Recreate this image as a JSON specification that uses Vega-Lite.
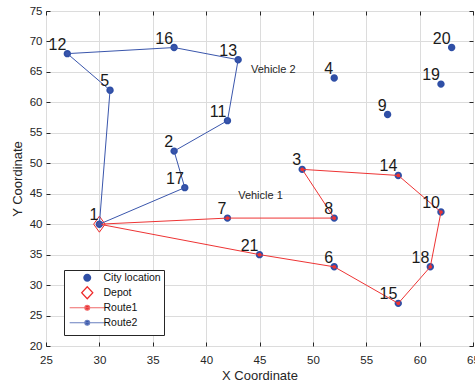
{
  "$schema": "https://vega.github.io/schema/vega-lite/v6.json",
  "width": 427,
  "height": 335,
  "autosize": {"type": "none"},
  "padding": {"left": 46, "top": 11, "right": 2, "bottom": 38},
  "background": "white",
  "config": {
    "view": {"stroke": "#262626", "strokeWidth": 1},
    "font": "Liberation Sans",
    "axis": {
      "domain": false,
      "gridColor": "#dcdcdc",
      "gridWidth": 1,
      "tickColor": "#262626",
      "tickSize": -4,
      "labelColor": "#262626",
      "labelFont": "Liberation Sans",
      "labelFontSize": 11.5,
      "titleFont": "Liberation Sans",
      "titleFontSize": 13,
      "titleFontWeight": "normal",
      "titleColor": "#262626"
    }
  },
  "resolve": {"axis": {"x": "independent", "y": "independent"}},
  "datasets": {
    "cities": [
      {"id": 1, "x": 30, "y": 40}, {"id": 2, "x": 37, "y": 52}, {"id": 3, "x": 49, "y": 49},
      {"id": 4, "x": 52, "y": 64}, {"id": 5, "x": 31, "y": 62}, {"id": 6, "x": 52, "y": 33},
      {"id": 7, "x": 42, "y": 41}, {"id": 8, "x": 52, "y": 41}, {"id": 9, "x": 57, "y": 58},
      {"id": 10, "x": 62, "y": 42}, {"id": 11, "x": 42, "y": 57}, {"id": 12, "x": 27, "y": 68},
      {"id": 13, "x": 43, "y": 67}, {"id": 14, "x": 58, "y": 48}, {"id": 15, "x": 58, "y": 27},
      {"id": 16, "x": 37, "y": 69}, {"id": 17, "x": 38, "y": 46}, {"id": 18, "x": 61, "y": 33},
      {"id": 19, "x": 62, "y": 63}, {"id": 20, "x": 63, "y": 69}, {"id": 21, "x": 45, "y": 35}
    ],
    "routes": [
      {"route": "Route1", "step": 0, "x": 30, "y": 40},
      {"route": "Route1", "step": 1, "x": 42, "y": 41},
      {"route": "Route1", "step": 2, "x": 52, "y": 41},
      {"route": "Route1", "step": 3, "x": 49, "y": 49},
      {"route": "Route1", "step": 4, "x": 58, "y": 48},
      {"route": "Route1", "step": 5, "x": 62, "y": 42},
      {"route": "Route1", "step": 6, "x": 61, "y": 33},
      {"route": "Route1", "step": 7, "x": 58, "y": 27},
      {"route": "Route1", "step": 8, "x": 52, "y": 33},
      {"route": "Route1", "step": 9, "x": 45, "y": 35},
      {"route": "Route1", "step": 10, "x": 30, "y": 40},
      {"route": "Route2", "step": 0, "x": 30, "y": 40},
      {"route": "Route2", "step": 1, "x": 38, "y": 46},
      {"route": "Route2", "step": 2, "x": 37, "y": 52},
      {"route": "Route2", "step": 3, "x": 42, "y": 57},
      {"route": "Route2", "step": 4, "x": 43, "y": 67},
      {"route": "Route2", "step": 5, "x": 37, "y": 69},
      {"route": "Route2", "step": 6, "x": 27, "y": 68},
      {"route": "Route2", "step": 7, "x": 31, "y": 62},
      {"route": "Route2", "step": 8, "x": 30, "y": 40}
    ],
    "notes": [
      {"x": 43, "y": 44.6, "label": "Vehicle 1"},
      {"x": 44.2, "y": 65.3, "label": "Vehicle 2"}
    ]
  },
  "layer": [
    {
      "data": {"name": "cities"},
      "mark": {"type": "point", "filled": true, "size": 55, "opacity": 1, "strokeWidth": 0},
      "encoding": {
        "x": {"field": "x", "type": "quantitative", "scale": {"domain": [25, 65], "nice": false, "zero": false},
          "axis": {"orient": "bottom", "title": "X Coordinate", "values": [25,30,35,40,45,50,55,60,65], "labelPadding": 12, "titlePadding": 4, "labelFlush": false}},
        "y": {"field": "y", "type": "quantitative", "scale": {"domain": [20, 75], "nice": false, "zero": false},
          "axis": {"orient": "left", "title": "Y Coordinate", "values": [20,25,30,35,40,45,50,55,60,65,70,75], "labelPadding": 8, "titlePadding": 5, "labelFlush": false}},
        "fill": {
          "datum": "City location", "type": "nominal",
          "scale": {"domain": ["City location", "Depot", "Route1", "Route2"], "range": ["#2f4fa6", "transparent", "#e8262a", "#2f4fa6"]},
          "legend": {
            "title": null,
            "orient": "none",
            "legendX": 18,
            "legendY": 259,
            "padding": 2.5,
            "strokeColor": "#262626",
            "fillColor": "white",
            "symbolSize": 64,
            "symbolOffset": 15.5,
            "labelOffset": 11,
            "labelFont": "Liberation Sans",
            "labelFontSize": 10.5,
            "labelColor": "#111111",
            "rowPadding": -6,
            "symbolStrokeWidth": 1.2,
            "symbolOpacity": 1
          }
        },
        "stroke": {
          "datum": "City location", "type": "nominal",
          "scale": {"domain": ["City location", "Depot", "Route1", "Route2"], "range": ["transparent", "#ee2a2a", "#f06a6a", "#6a80c0"]}
        },
        "shape": {
          "datum": "City location", "type": "nominal",
          "scale": {"domain": ["City location", "Depot", "Route1", "Route2"], "range": [
            "M1,0A1,1,0,1,1,-1,0A1,1,0,1,1,1,0ZM0,-1.75L0,-1.75M0,1.75L0,1.75",
            "M0,-1.5L1.4,0L0,1.5L-1.4,0ZM0,-1.75L0,-1.75M0,1.75L0,1.75",
            "M-4.4,0L4.4,0M0.6,0A0.6,0.6,0,1,1,-0.6,0A0.6,0.6,0,1,1,0.6,0ZM0,-1.75L0,-1.75M0,1.75L0,1.75",
            "M-4.4,0L4.4,0M0.6,0A0.6,0.6,0,1,1,-0.6,0A0.6,0.6,0,1,1,0.6,0ZM0,-1.75L0,-1.75M0,1.75L0,1.75"]}
        }
      }
    },
    {
      "data": {"name": "cities"},
      "transform": [{"filter": "datum.id === 1"}],
      "mark": {"type": "point", "filled": false, "shape": "M0,-2L1.43,0L0,2L-1.43,0Z", "size": 64, "stroke": "#ee2a2a", "strokeWidth": 1, "opacity": 1},
      "encoding": {
        "x": {"field": "x", "type": "quantitative", "axis": null},
        "y": {"field": "y", "type": "quantitative", "axis": null}
      }
    },
    {
      "data": {"name": "routes"},
      "mark": {"type": "line", "strokeWidth": 1},
      "encoding": {
        "x": {"field": "x", "type": "quantitative", "axis": null},
        "y": {"field": "y", "type": "quantitative", "axis": null},
        "order": {"field": "step", "type": "quantitative"},
        "color": {"field": "route", "type": "nominal", "scale": {"domain": ["Route1", "Route2"], "range": ["#ee3434", "#3a56ac"]}, "legend": null}
      }
    },
    {
      "data": {"name": "routes"},
      "mark": {"type": "point", "filled": true, "size": 14, "opacity": 1, "strokeWidth": 0},
      "encoding": {
        "x": {"field": "x", "type": "quantitative", "axis": null},
        "y": {"field": "y", "type": "quantitative", "axis": null},
        "color": {"field": "route", "type": "nominal", "legend": null}
      }
    },
    {
      "data": {"name": "cities"},
      "mark": {"type": "text", "align": "right", "baseline": "alphabetic", "dx": -1, "dy": -4, "fontSize": 16, "font": "Liberation Sans", "color": "#1a1a1a"},
      "encoding": {
        "x": {"field": "x", "type": "quantitative", "axis": {"orient": "top", "labels": false, "grid": false, "domain": false, "title": null, "values": [25,30,35,40,45,50,55,60,65]}},
        "y": {"field": "y", "type": "quantitative", "axis": {"orient": "right", "labels": false, "grid": false, "domain": false, "title": null, "values": [20,25,30,35,40,45,50,55,60,65,70,75]}},
        "text": {"field": "id", "type": "nominal"}
      }
    },
    {
      "data": {"name": "notes"},
      "mark": {"type": "text", "align": "left", "baseline": "middle", "fontSize": 11, "font": "Liberation Sans", "color": "#262626"},
      "encoding": {
        "x": {"field": "x", "type": "quantitative", "axis": null},
        "y": {"field": "y", "type": "quantitative", "axis": null},
        "text": {"field": "label", "type": "nominal"}
      }
    }
  ]
}
